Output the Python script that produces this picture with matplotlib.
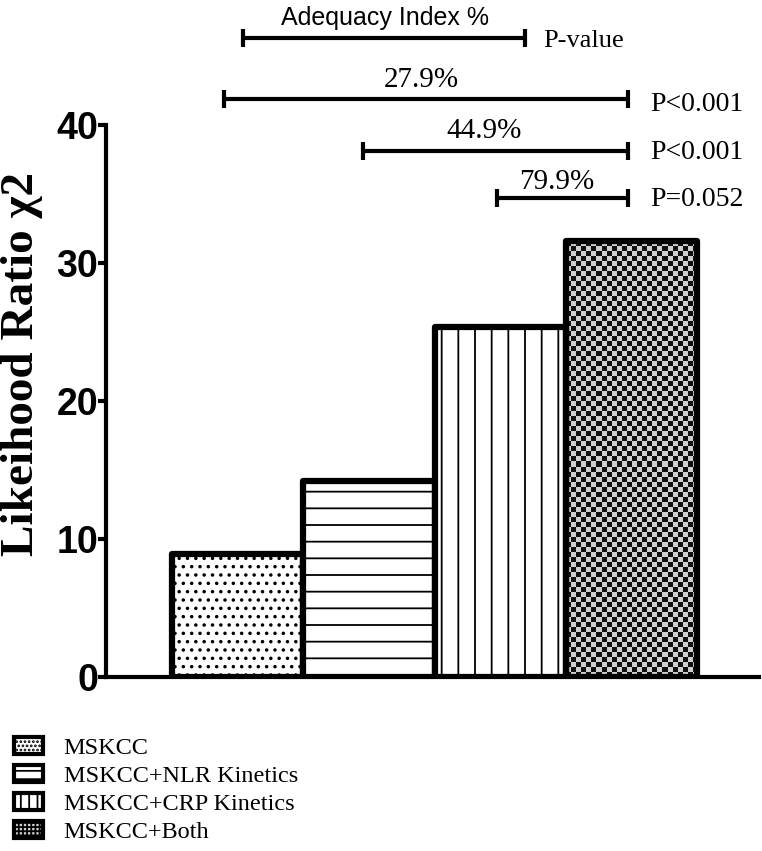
import numpy as np
import matplotlib
matplotlib.use("Agg")
import matplotlib.pyplot as plt
from matplotlib.patches import Patch

# ── Data ──────────────────────────────────────────────────────────────────────
models  = ["MSKCC", "MSKCC+NLR Kinetics", "MSKCC+CRP Kinetics", "MSKCC+Both"]
chi2    = [8.9, 14.2, 25.4, 31.6]
hatches = ["..", "-", "|", None]

# comparison brackets (each model vs. MSKCC+Both)
br_start  = [-0.10, 0.955, 1.975]
br_end    = [2.975, 2.975, 2.975]
br_y      = [41.9, 38.1, 34.7]
pct_text  = ["27.9%", "44.9%", "79.9%"]
pct_x     = [1.40, 1.88, 2.43]
pct_y     = [43.3, 39.6, 35.9]
p_text    = ["P<0.001", "P<0.001", "P=0.052"]
p_y       = [41.5, 38.0, 34.6]

plt.rcParams["hatch.linewidth"] = 1.3
SERIF = ["Liberation Serif", "DejaVu Serif"]

fig = plt.figure(figsize=(7.62, 8.51), dpi=100)
ax = fig.add_axes([0.139, 0.2045, 0.857, 0.6485])

x = np.arange(len(models))
bars = ax.bar(x, chi2, width=1.0, facecolor="white", edgecolor="black",
              linewidth=4.5, zorder=2)
for b, h in zip(bars, hatches):
    b.set_joinstyle("round")
    if h:
        b.set_hatch(h)

# checkerboard fill for the last bar
last = bars[-1]
nx = 26
ny = int(round(chi2[-1] / 40 * 550 / 5))
checker = np.indices((ny, nx)).sum(axis=0) % 2
img = ax.imshow(checker, cmap=matplotlib.colors.ListedColormap(["#111111", "#cfcfcf"]),
                extent=(x[-1] - 0.5, x[-1] + 0.5, 0, chi2[-1]), aspect="auto",
                interpolation="nearest", zorder=1.5)
img.set_clip_path(last)
last.set_facecolor("none")

ax.set_xlim(-1.003, 3.97)
ax.set_ylim(0, 40)
ax.set_yticks([0, 10, 20, 30, 40])
ax.set_xticks([])
for s in ["top", "right"]:
    ax.spines[s].set_visible(False)
for s in ["left", "bottom"]:
    ax.spines[s].set_linewidth(3)
ax.tick_params(axis="y", direction="out", length=5.5, width=3, pad=0)
for lab in ax.get_yticklabels():
    lab.set_fontfamily("Liberation Sans")
    lab.set_fontweight("bold")
    lab.set_fontsize(27)
ax.set_ylabel("Likeihood Ratio χ2", family=SERIF, fontweight="bold",
              fontsize=34)
ax.yaxis.set_label_coords(-0.097, 0.567)

# ── Brackets ──────────────────────────────────────────────────────────────────
def bracket(x0, x1, y):
    ax.plot([x0, x1], [y, y], color="black", lw=3, clip_on=False,
            solid_capstyle="butt")
    ax.plot([x0, x1], [y, y], ls="none", marker="|", ms=13, mew=3,
            color="black", clip_on=False)

bracket(0.04, 2.19, 46.3)
ax.text(1.12, 47.75, "Adequacy Index %", ha="center", va="center",
        family="Liberation Sans", fontsize=18, clip_on=False)
ax.text(2.33, 46.1, "P-value", ha="left", va="center",
        family=SERIF, fontsize=19, clip_on=False)

for s0, s1, y, pt, px, py, pv, pvy in zip(br_start, br_end, br_y, pct_text,
                                          pct_x, pct_y, p_text, p_y):
    bracket(s0, s1, y)
    ax.text(px, py, pt, ha="center", va="center", family=SERIF,
            fontsize=21, clip_on=False)
    ax.text(3.14, pvy, pv, ha="left", va="center", family=SERIF,
            fontsize=20, clip_on=False)

# ── Legend ────────────────────────────────────────────────────────────────────
handles = [
    Patch(facecolor="white", edgecolor="black", hatch="....", lw=3),
    Patch(facecolor="white", edgecolor="black", hatch="--", lw=3),
    Patch(facecolor="white", edgecolor="black", hatch="||", lw=3),
    Patch(facecolor="#cfcfcf", edgecolor="black", hatch="++++", lw=3),
]
fig.legend(handles, models, loc="upper left",
           bbox_to_anchor=(0.018, 1 - 737 / 851), frameon=False,
           prop={"family": SERIF, "size": 17.5}, handlelength=1.2,
           handleheight=0.7, handletextpad=0.85, labelspacing=0.25,
           borderaxespad=0, borderpad=0)

fig.savefig("out.png", dpi=100)
